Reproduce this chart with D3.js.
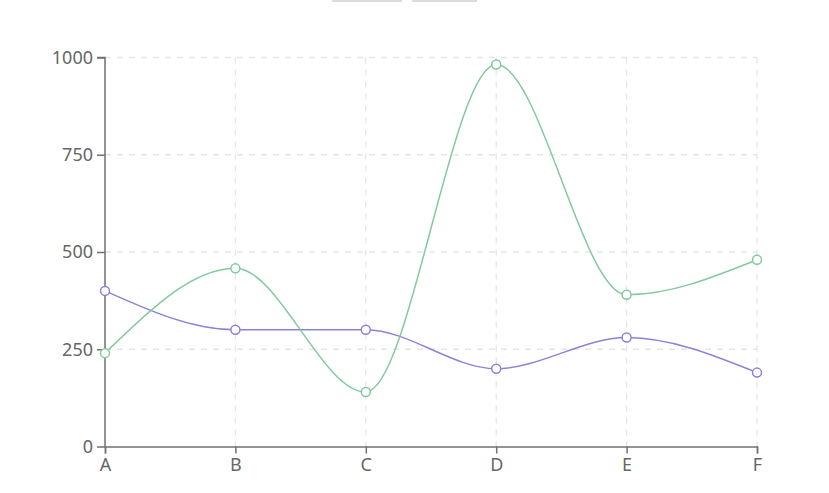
<!DOCTYPE html>
<html><head><meta charset="utf-8">
<script src="https://cdn.jsdelivr.net/npm/d3@7"></script>
<style>html,body{margin:0;padding:0;background:#fff;overflow:hidden}</style>
</head><body>
<svg id="chart" width="829" height="493"></svg>
<script>
const categories = ["A","B","C","D","E","F"];
const seriesPurple = [400, 300, 300, 200, 280, 190];
const seriesGreen = [240, 458, 140, 982, 390, 480];
const yTicks = [0, 250, 500, 750, 1000];

const svg = d3.select("#chart");
const W = 829, H = 493;
const m = {left:105, right:72, top:57.5, bottom:46.5};
const x = d3.scalePoint().domain(categories).range([m.left, W - m.right]);
const y = d3.scaleLinear().domain([0, 1000]).range([H - m.bottom, m.top]);
const font = "'Noto Sans',sans-serif";

// legend remnants at top (cut off)
svg.append("rect").attr("x",332).attr("y",0).attr("width",70).attr("height",2).attr("fill","#dcdcdc");
svg.append("rect").attr("x",412).attr("y",0).attr("width",65).attr("height",2).attr("fill","#dcdcdc");

// grid
const grid = svg.append("g").attr("stroke","#e6e6e6").attr("stroke-dasharray","6 6").attr("stroke-width",1.3);
yTicks.filter(t=>t>0).forEach(t=>{
  grid.append("line").attr("x1",m.left).attr("x2",W-m.right).attr("y1",y(t)).attr("y2",y(t));
});
categories.slice(1).forEach(c=>{
  grid.append("line").attr("x1",x(c)).attr("x2",x(c)).attr("y1",m.top).attr("y2",y(0));
});

// axes
const ax = svg.append("g").attr("transform",`translate(0,${y(0)})`)
  .call(d3.axisBottom(x).tickSize(7).tickPadding(5));
const ay = svg.append("g").attr("transform",`translate(${m.left},0)`)
  .call(d3.axisLeft(y).tickValues(yTicks).tickFormat(d3.format("d")).tickSize(8).tickPadding(4));
[ax, ay].forEach(a=>{
  a.select(".domain").attr("stroke","#707070").attr("stroke-width",1.5);
  a.selectAll(".tick line").attr("stroke","#707070").attr("stroke-width",1.5);
  a.selectAll(".tick text").attr("fill","#666").style("font-family",font).style("font-size","18px");
});
ay.select(".domain").attr("d", `M-8,${y(1000)}H0V${y(0)}`);

// lines
function drawSeries(vals, color){
  const line = d3.line().x((d,i)=>x(categories[i])).y(d=>y(d)).curve(d3.curveMonotoneX);
  svg.append("path").datum(vals).attr("d",line).attr("fill","none").attr("stroke",color).attr("stroke-width",1.5);
  svg.append("g").selectAll("circle").data(vals).join("circle")
    .attr("cx",(d,i)=>x(categories[i])).attr("cy",d=>y(d)).attr("r",4.5)
    .attr("fill","#fff").attr("stroke",color).attr("stroke-width",1.5);
}
drawSeries(seriesPurple, "#8884d8");
drawSeries(seriesGreen, "#82ca9d");
</script>
</body></html>
